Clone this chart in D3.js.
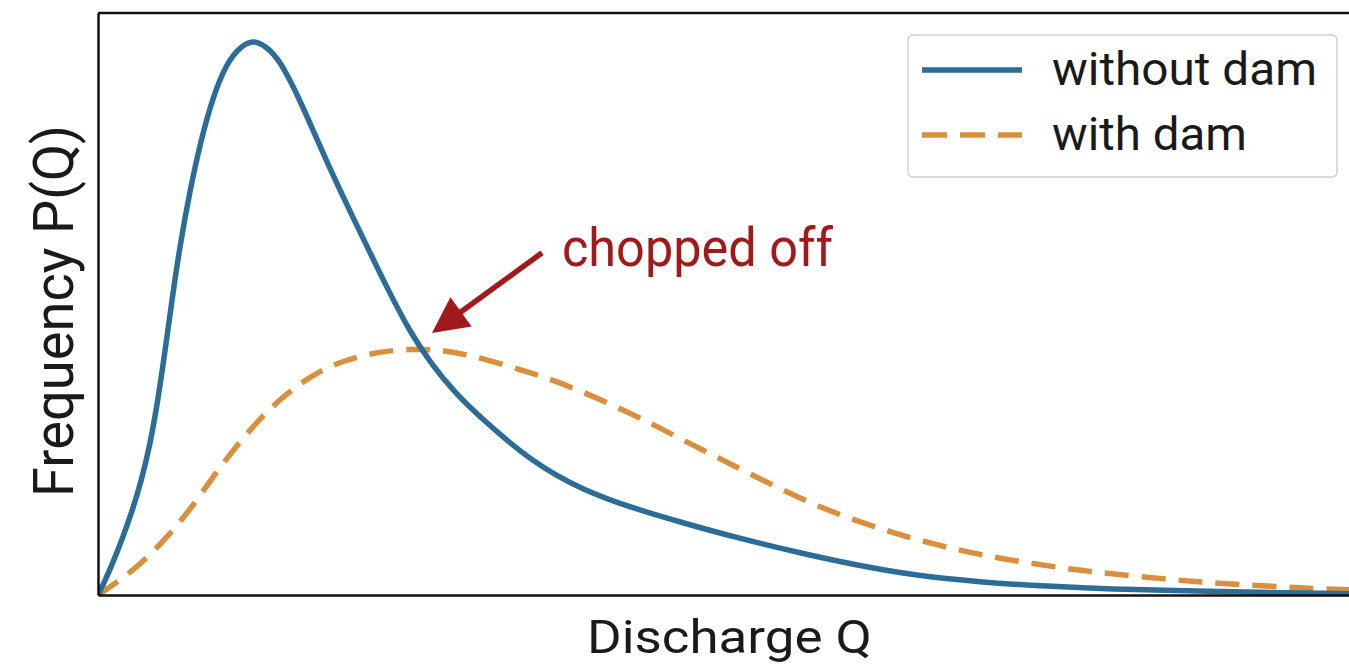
<!DOCTYPE html>
<html>
<head>
<meta charset="utf-8">
<script src="https://cdn.jsdelivr.net/npm/d3@7"></script>
<style>
  html, body { margin: 0; padding: 0; background: #ffffff; }
  svg { display: block; font-family: Roboto, "Noto Sans", sans-serif; }
</style>
</head>
<body>
<svg id="chart" width="1349" height="670"></svg>
<script>
// ---- data (arbitrary units) ----
const withoutDamQ = [0, 0.048, 0.112, 0.191, 0.271, 0.343, 0.415, 0.478, 0.534, 0.590, 0.654, 0.734, 0.821, 0.917, 1.021, 1.132, 1.236, 1.340, 1.451, 1.611, 1.834, 2.073, 2.313, 2.488, 2.648, 2.847, 3.070, 3.469, 3.868, 4.266, 4.665, 5.064, 5.598, 6.077, 6.499, 7.033, 7.568, 8.094, 8.628, 9.976];
const withoutDamP = [0, 0.021, 0.052, 0.095, 0.143, 0.194, 0.258, 0.335, 0.418, 0.507, 0.601, 0.696, 0.782, 0.856, 0.912, 0.942, 0.954, 0.943, 0.919, 0.851, 0.739, 0.631, 0.524, 0.452, 0.400, 0.347, 0.301, 0.227, 0.180, 0.149, 0.124, 0.100, 0.072, 0.050, 0.034, 0.022, 0.015, 0.010, 0.007, 0.002];

const withDamQ = [0, 0.152, 0.335, 0.534, 0.734, 0.909, 1.093, 1.292, 1.507, 1.730, 1.970, 2.233, 2.504, 2.743, 2.967, 3.285, 3.581, 3.844, 4.139, 4.402, 4.665, 4.936, 5.199, 5.494, 5.758, 6.053, 6.340, 6.635, 6.930, 7.217, 7.512, 7.807, 8.094, 8.445, 8.788, 9.187, 9.585, 9.976];
const withDamP = [0, 0.022, 0.052, 0.095, 0.146, 0.201, 0.253, 0.304, 0.347, 0.381, 0.404, 0.418, 0.423, 0.421, 0.412, 0.393, 0.373, 0.351, 0.323, 0.296, 0.266, 0.237, 0.208, 0.177, 0.151, 0.127, 0.107, 0.089, 0.074, 0.062, 0.052, 0.043, 0.036, 0.029, 0.022, 0.017, 0.012, 0.009];

const seriesNames = ["without dam", "with dam"];
const xLabel = "Discharge Q";
const yLabel = "Frequency P(Q)";
const annotationText = "chopped off";
const annotationTip = [2.663, 0.450];   // point the arrow touches
const annotationTail = [3.541, 0.588];  // arrow tail
const annotationTextAt = [3.70, 0.565];

// ---- layout ----
const svg = d3.select("#chart");
const mLeft = 98, mTop = 13, mRight = 1352, mBottom = 595;
const x = d3.scaleLinear().domain([0, 10]).range([mLeft, mRight]);
const y = d3.scaleLinear().domain([0, 1]).range([mBottom, mTop]);

const colors = { without: "#2b6d97", with: "#d98f3e" };
const red = "#a01a1c";
const ink = "#1a1a1a";

svg.append("rect").attr("width", 1349).attr("height", 670).attr("fill", "#ffffff");

const line = d3.line().x(d => x(d[0])).y(d => y(d[1])).curve(d3.curveBasis);

svg.append("clipPath").attr("id", "clip")
  .append("rect").attr("x", mLeft).attr("y", mTop).attr("width", mRight - mLeft).attr("height", mBottom - mTop);

const plot = svg.append("g").attr("clip-path", "url(#clip)");

plot.append("path")
  .datum(withDamQ.map((q, i) => [q, withDamP[i]]))
  .attr("d", line).attr("fill", "none")
  .attr("stroke", colors.with).attr("stroke-width", 5.5)
  .attr("stroke-dasharray", "24,13");

plot.append("path")
  .datum(withoutDamQ.map((q, i) => [q, withoutDamP[i]]))
  .attr("d", line).attr("fill", "none")
  .attr("stroke", colors.without).attr("stroke-width", 5.5)
  .attr("stroke-linejoin", "round").attr("stroke-linecap", "round");

// frame (spines), no ticks
svg.append("g").attr("transform", `translate(0,${mBottom})`)
  .call(d3.axisBottom(x).tickValues([]).tickSizeOuter(0))
  .call(g => g.select(".domain").attr("stroke", "#111").attr("stroke-width", 2.5));
svg.append("g").attr("transform", `translate(${mLeft},0)`)
  .call(d3.axisLeft(y).tickValues([]).tickSizeOuter(0))
  .call(g => g.select(".domain").attr("stroke", "#111").attr("stroke-width", 2.5));
svg.append("line").attr("x1", mLeft).attr("x2", mRight).attr("y1", mTop).attr("y2", mTop)
  .attr("stroke", "#111").attr("stroke-width", 2.5);

// axis labels
svg.append("text").attr("x", 587).attr("y", 653)
  .attr("font-size", 46).attr("fill", ink)
  .attr("textLength", 285).attr("lengthAdjust", "spacingAndGlyphs").text(xLabel);
svg.append("text").attr("transform", `translate(73,497) rotate(-90)`)
  .attr("font-size", 55).attr("fill", ink)
  .attr("textLength", 372).attr("lengthAdjust", "spacingAndGlyphs").text(yLabel);

// annotation arrow
const tx = x(annotationTip[0]), ty = y(annotationTip[1]);
const sx = x(annotationTail[0]), sy = y(annotationTail[1]);
const dx = sx - tx, dy = sy - ty, len = Math.hypot(dx, dy);
const ux = dx / len, uy = dy / len, px = -uy, py = ux;
const headLen = 36, headHalf = 18;
const bx = tx + ux * headLen, by = ty + uy * headLen;
svg.append("line").attr("x1", sx).attr("y1", sy).attr("x2", bx - ux * 2).attr("y2", by - uy * 2)
  .attr("stroke", red).attr("stroke-width", 5.5);
svg.append("path")
  .attr("d", `M${tx},${ty}L${bx + px * headHalf},${by + py * headHalf}L${bx - px * headHalf},${by - py * headHalf}Z`)
  .attr("fill", red);
svg.append("text").attr("x", x(annotationTextAt[0])).attr("y", y(annotationTextAt[1]))
  .attr("font-size", 53).attr("fill", red)
  .attr("textLength", 271).attr("lengthAdjust", "spacingAndGlyphs").text(annotationText);

// legend
const lg = svg.append("g");
lg.append("rect").attr("x", 908).attr("y", 35).attr("width", 429).attr("height", 142)
  .attr("rx", 5).attr("fill", "#ffffff").attr("stroke", "#cfcfcf").attr("stroke-width", 1.5);
const legendItems = [
  { name: seriesNames[0], color: colors.without, dash: null, yy: 70, w: 265 },
  { name: seriesNames[1], color: colors.with, dash: "25,13", yy: 135, w: 195 }
];
legendItems.forEach(it => {
  lg.append("line").attr("x1", 922).attr("x2", 1022).attr("y1", it.yy).attr("y2", it.yy)
    .attr("stroke", it.color).attr("stroke-width", 5.5).attr("stroke-dasharray", it.dash);
  lg.append("text").attr("x", 1052).attr("y", it.yy + 15).attr("font-size", 46)
    .attr("fill", ink).attr("textLength", it.w).attr("lengthAdjust", "spacingAndGlyphs").text(it.name);
});
</script>
</body>
</html>
